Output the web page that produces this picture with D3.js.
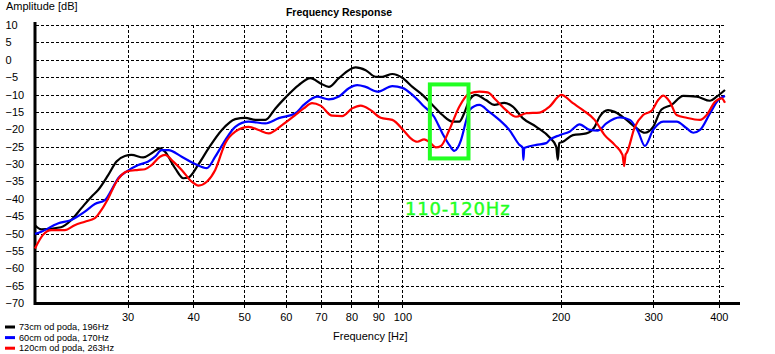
<!DOCTYPE html>
<html>
<head>
<meta charset="utf-8">
<script src="https://cdn.jsdelivr.net/npm/d3@7"></script>
<style>
  body { margin: 0; background: #fff; }
  text { font-family: "Liberation Sans", Arial, sans-serif; }
</style>
</head>
<body>
<div id="chart"></div>
<script>
// tick labels
const freqTicks = [30, 40, 50, 60, 70, 80, 90, 100, 200, 300, 400];
const dbTicks = [10, 5, 0, -5, -10, -15, -20, -25, -30, -35, -40, -45, -50, -55, -60, -65, -70];

// series: [frequency Hz, amplitude dB]
const series73 = [[20,-47.6],[20.56,-48.8],[22.41,-48.2],[23.45,-46.1],[24.51,-42.7],[25.61,-39.4],[26.37,-37.5],
  [27.56,-33.2],[28.58,-29.3],[29.65,-27.7],[30.52,-27.4],[32.14,-28.1],[33.33,-26.9],[34.58,-25.5],[35.35,-26.5],
  [36.94,-31.2],[38.31,-34.1],[39.16,-33.9],[40.93,-30.1],[42.77,-25.5],[45.35,-20.2],[48.09,-17.1],[50.25,-16.7],
  [52.51,-17.3],[54.87,-17.3],[57.34,-14.0],[59.91,-10.9],[63.5,-7.3],[66.85,-5.3],[69.86,-6.8],[72.46,-7.8],
  [75.71,-5.3],[81.48,-2.2],[85.15,-3.0],[88.99,-4.9],[91.58,-4.9],[95.7,-4.1],[100,-5.2],[104.5,-7.8],[109.2,-10.1],
  [114.1,-13.0],[119.2,-15.9],[124.6,-17.8],[128.3,-17.8],[131.1,-15.4],[134.1,-11.6],[138.0,-10.1],[144.2,-11.6],
  [149.6,-13.0],[156.3,-12.4],[162.2,-13.5],[169.4,-16.8],[179.8,-19.3],[190.5,-22.3],[196.2,-25.0],[197.6,-28.8],
  [198.8,-24.0],[202.0,-23.6],[211.1,-21.7],[223.9,-21.2],[232.2,-19.3],[237.3,-16.4],[246.2,-14.5],[253.5,-15.0],
  [267.0,-17.3],[279.0,-19.7],[289.3,-21.0],[300.0,-19.3],[311.2,-14.3],[325.2,-13.0],[342.2,-10.4],[363.1,-10.6],
  [384.9,-11.8],[396.4,-10.6],[411,-8.7]];

const series60 = [[20,-50.1],[20.56,-49.5],[22.1,-47.1],[23.45,-46.1],[24.88,-43.7],[26.0,-41.5],[27.16,-40.4],
  [27.96,-37.5],[28.8,-34.1],[29.86,-32.2],[31.43,-30.3],[32.85,-29.3],[33.84,-27.9],[34.83,-26.0],[35.87,-26.0],
  [38.03,-27.9],[40.33,-30.0],[42.45,-31.2],[44.05,-27.9],[46.03,-23.1],[48.09,-19.3],[50.99,-17.8],[54.87,-18.3],
  [58.18,-16.8],[62.59,-15.4],[64.91,-13.0],[68.82,-10.6],[72.46,-11.4],[75.71,-10.6],[79.1,-8.2],[82.06,-7.3],
  [85.15,-7.8],[89.62,-9.2],[95.7,-7.6],[100,-8.1],[104.5,-10.1],[109.2,-13.0],[114.9,-16.4],[119.2,-21.2],
  [122.8,-24.5],[125.5,-26.2],[129.3,-23.1],[132.1,-17.8],[134.1,-14.5],[140.1,-13.0],[146.3,-15.0],[152.9,-17.3],
  [159.8,-20.2],[167.0,-24.5],[169.4,-25.3],[169.9,-28.8],[170.6,-25.4],[172.0,-25.2],[179.8,-24.5],[187.8,-24.0],
  [190.5,-23.1],[199.1,-21.7],[208.0,-20.7],[217.4,-18.6],[227.1,-20.2],[235.6,-20.4],[244.4,-18.3],[259.2,-16.6],
  [270.9,-17.3],[281.0,-20.7],[289.3,-24.8],[300.0,-20.2],[313.5,-17.8],[332.5,-17.8],[347.4,-19.7],[357.6,-21.0],
  [368.4,-20.2],[384.9,-15.4],[399.2,-11.6],[411,-10.4]];

const series120 = [[20,-54.3],[20.71,-50.4],[21.48,-49.0],[22.78,-49.0],[23.8,-47.6],[24.88,-46.6],[26.0,-45.6],
  [26.76,-43.2],[27.56,-39.9],[28.58,-35.1],[29.86,-32.2],[31.43,-31.7],[32.38,-31.5],[33.33,-30.3],[34.58,-27.9],
  [35.35,-27.4],[36.66,-29.3],[38.03,-31.7],[39.74,-35.1],[40.93,-36.2],[42.45,-35.1],[44.05,-31.7],[46.03,-24.0],
  [48.09,-20.7],[50.99,-19.3],[53.28,-20.2],[55.68,-21.2],[59.02,-18.8],[62.59,-15.9],[64.91,-14.0],[67.32,-12.5],
  [69.86,-13.2],[73.51,-16.1],[76.82,-16.2],[80.27,-14.0],[83.3,-13.2],[87.02,-14.5],[90.95,-16.7],[95.7,-17.3],
  [100.75,-20.5],[103.75,-22.6],[106.8,-23.6],[110.0,-22.9],[112.4,-23.6],[115.8,-25.2],[118.4,-24.8],[122.8,-20.2],
  [128.3,-13.5],[134.1,-9.7],[140.1,-9.2],[145.3,-9.4],[150.7,-11.6],[157.5,-14.5],[164.6,-16.4],[172.0,-15.4],
  [182.4,-15.2],[190.5,-13.5],[200.6,-10.1],[211.1,-12.5],[220.6,-14.5],[232.2,-17.3],[242.6,-21.7],[253.5,-24.5],
  [262.3,-27.4],[264.2,-30.6],[266.0,-27.2],[267.0,-26.9],[276.9,-19.3],[287.1,-15.9],[297.9,-14.7],[306.7,-11.6],
  [313.5,-10.3],[322.8,-12.1],[332.5,-15.9],[347.4,-16.7],[368.4,-17.3],[379.3,-15.9],[393.4,-12.1],[405.2,-11.1],
  [411,-12.4]];

const legendLabels = ["73cm od poda, 196Hz", "60cm od poda, 170Hz", "120cm od poda, 263Hz"];
const colors = ["#000000", "#0000ff", "#ff0000"];

// highlighted band
const bandFreqs = [112.8, 133.6];
const bandDb = [-28.4, -7.1];
const bandLabel = "110-120Hz";

const W = 775, H = 354;
const plot = {left: 35, right: 725, top: 25, bottom: 303};

const svg = d3.select("#chart")
    .append("svg")
    .attr("width", W)
    .attr("height", H);

const x = d3.scaleLog().domain([20, 411]).range([plot.left, plot.right]);
const y = d3.scaleLinear().domain([-70, 10]).range([plot.bottom, plot.top]);

// horizontal grid
svg.append("g")
    .selectAll("line")
    .data(dbTicks.filter(d => d > -70))
    .join("line")
    .attr("x1", plot.left + 1)
    .attr("x2", plot.right)
    .attr("y1", d => Math.round(y(d)) + 0.5)
    .attr("y2", d => Math.round(y(d)) + 0.5)
    .attr("stroke", "#000")
    .attr("stroke-dasharray", "3,2")
    .attr("shape-rendering", "crispEdges");

// vertical grid
svg.append("g")
    .selectAll("line")
    .data(freqTicks)
    .join("line")
    .attr("x1", d => Math.round(x(d)) + 0.5)
    .attr("x2", d => Math.round(x(d)) + 0.5)
    .attr("y1", plot.top)
    .attr("y2", plot.bottom + 7)
    .attr("stroke", "#000")
    .attr("stroke-dasharray", "3,2")
    .attr("shape-rendering", "crispEdges");

// x axis labels
const xAxis = svg.append("g")
    .attr("transform", `translate(0, ${plot.bottom})`)
    .call(d3.axisBottom(x).tickValues(freqTicks).tickFormat(d3.format("d")).tickSize(0).tickPadding(10));
xAxis.select(".domain").remove();
xAxis.selectAll("text")
    .attr("fill", "#000")
    .style("font-size", "11px")
    .style("font-family", "'Liberation Sans', Arial, sans-serif");

// y axis labels (left aligned)
const yAxis = svg.append("g")
    .attr("transform", `translate(${plot.left}, 0)`)
    .call(d3.axisLeft(y).tickValues(dbTicks).tickSize(0));
yAxis.select(".domain").remove();
yAxis.selectAll("text")
    .attr("x", -29.5)
    .attr("text-anchor", "start")
    .attr("fill", "#000")
    .style("font-size", "11px")
    .style("font-family", "'Liberation Sans', Arial, sans-serif");

// axis lines
svg.append("line")
    .attr("x1", plot.left).attr("x2", 740)
    .attr("y1", plot.bottom + 0.5).attr("y2", plot.bottom + 0.5)
    .attr("stroke", "#000").attr("stroke-width", 3);
svg.append("line")
    .attr("x1", plot.left).attr("x2", plot.left)
    .attr("y1", 22).attr("y2", plot.bottom + 2)
    .attr("stroke", "#000").attr("stroke-width", 3);

// curves
const line = d3.line()
    .x(d => x(d[0]))
    .y(d => y(d[1]))
    .curve(d3.curveMonotoneX);

const allSeries = [series73, series60, series120];
svg.append("g")
    .selectAll("path")
    .data(allSeries)
    .join("path")
    .attr("d", line)
    .attr("fill", "none")
    .attr("stroke", (d, i) => colors[i])
    .attr("stroke-width", 2.2)
    .attr("stroke-linejoin", "round");

// green highlight
svg.append("rect")
    .attr("x", x(bandFreqs[0]))
    .attr("y", y(bandDb[1]))
    .attr("width", x(bandFreqs[1]) - x(bandFreqs[0]))
    .attr("height", y(bandDb[0]) - y(bandDb[1]))
    .attr("fill", "none")
    .attr("stroke", "#22ff22")
    .attr("stroke-width", 4);

svg.append("text")
    .attr("x", 405)
    .attr("y", 215)
    .attr("fill", "#22ff22")
    .style("font-family", "'DejaVu Sans', Verdana, sans-serif")
    .style("font-size", "18px")
    .style("letter-spacing", "0.8px")
    .style("stroke", "#22ff22")
    .style("stroke-width", "0.4px")
    .text(bandLabel);

// titles
svg.append("text")
    .attr("x", 339).attr("y", 16)
    .attr("text-anchor", "middle")
    .style("font-size", "10.5px")
    .style("font-weight", "bold")
    .text("Frequency Response");

svg.append("text")
    .attr("x", 6).attr("y", 10)
    .style("font-size", "11px")
    .text("Amplitude [dB]");

svg.append("text")
    .attr("x", 333).attr("y", 340)
    .style("font-size", "11px")
    .text("Frequency [Hz]");

// legend
const legend = svg.append("g")
    .selectAll("g")
    .data(legendLabels)
    .join("g")
    .attr("transform", (d, i) => `translate(0, ${327 + i * 10.6})`);
legend.append("line")
    .attr("x1", 5).attr("x2", 15)
    .attr("stroke", (d, i) => colors[i])
    .attr("stroke-width", 3);
legend.append("text")
    .attr("x", 19)
    .attr("dy", "0.35em")
    .style("font-size", "9.2px")
    .text(d => d);
</script>
</body>
</html>
